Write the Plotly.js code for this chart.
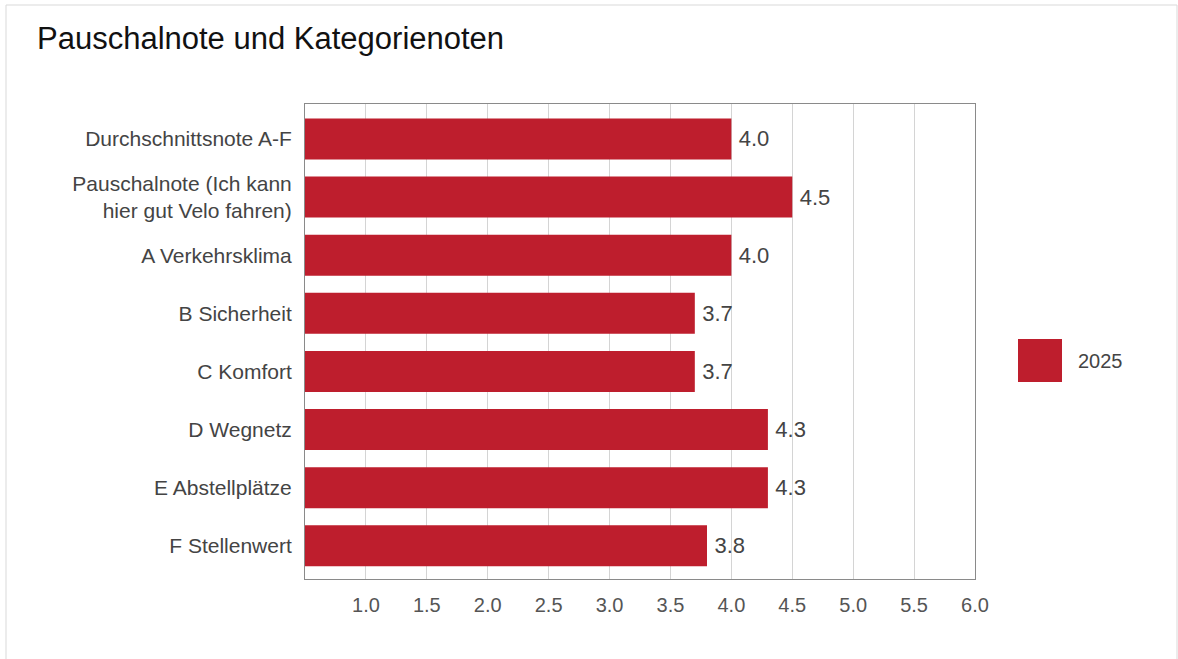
<!DOCTYPE html>
<html>
<head>
<meta charset="utf-8">
<script src="https://cdn.plot.ly/plotly-3.0.1.min.js"></script>
<style>
  html, body { margin: 0; padding: 0; background: #fff; }
  #chart { width: 1178px; height: 659px; }
</style>
</head>
<body>
<div id="chart"></div>
<script>
const chartTitle = "Pauschalnote und Kategorienoten";
const categories = [
  "Durchschnittsnote A-F",
  "Pauschalnote (Ich kann<br>hier gut Velo fahren)",
  "A Verkehrsklima",
  "B Sicherheit",
  "C Komfort",
  "D Wegnetz",
  "E Abstellplätze",
  "F Stellenwert"
];
const seriesName = "2025";
const values2025 = [4.0, 4.5, 4.0, 3.7, 3.7, 4.3, 4.3, 3.8];
const xTickValues = [1.0, 1.5, 2.0, 2.5, 3.0, 3.5, 4.0, 4.5, 5.0, 5.5, 6.0];
const xTickLabels = ["1.0", "1.5", "2.0", "2.5", "3.0", "3.5", "4.0", "4.5", "5.0", "5.5", "6.0"];

const barColor = "#be1e2d";
const fontFamily = "'Liberation Sans', Arial, sans-serif";

const trace = {
  type: "bar",
  orientation: "h",
  name: seriesName,
  y: categories,
  x: values2025,
  width: 0.705,
  marker: { color: barColor, line: { width: 0 } },
  text: values2025.map(v => "\u2009" + v.toFixed(1)),
  textposition: "outside",
  textfont: { family: fontFamily, size: 22, color: "#444" },
  cliponaxis: false,
  showlegend: false,
  hoverinfo: "x+y"
};

const layout = {
  width: 1178,
  height: 659,
  margin: { l: 305, r: 203, t: 104, b: 80 },
  paper_bgcolor: "#fff",
  plot_bgcolor: "#fff",
  font: { family: fontFamily, color: "#444" },
  title: {
    text: chartTitle,
    x: 37 / 1178,
    xanchor: "left",
    xref: "container",
    y: 1 - 38 / 659,
    yref: "container",
    yanchor: "middle",
    font: { family: fontFamily, size: 31, color: "#111" }
  },
  xaxis: {
    range: [0.5, 6.0],
    tickvals: xTickValues,
    ticktext: xTickLabels,
    showgrid: true,
    gridcolor: "#d4d4d4",
    gridwidth: 1,
    zeroline: false,
    showline: true,
    mirror: true,
    linecolor: "#8a8a8a",
    linewidth: 1,
    ticks: "",
    ticklabelstandoff: 8,
    tickfont: { family: fontFamily, size: 20, color: "#555" },
    fixedrange: true
  },
  yaxis: {
    type: "category",
    range: [7.57, -0.6],
    showgrid: false,
    zeroline: false,
    showline: true,
    mirror: true,
    linecolor: "#8a8a8a",
    linewidth: 1,
    ticks: "",
    ticklabelstandoff: 8,
    tickfont: { family: fontFamily, size: 21, color: "#444" },
    fixedrange: true
  },
  shapes: [
    {
      type: "rect", xref: "paper", yref: "paper",
      x0: (6 - 305) / 670, x1: (1177 - 305) / 670,
      y0: (579 - 665) / 475, y1: (579 - 5) / 475,
      line: { color: "#d9d9d9", width: 1 },
      fillcolor: "rgba(0,0,0,0)",
      layer: "below"
    },
    {
      type: "rect", xref: "paper", yref: "paper",
      x0: (1018 - 305) / 670, x1: (1062 - 305) / 670,
      y0: (579 - 382) / 475, y1: (579 - 339) / 475,
      line: { width: 0 },
      fillcolor: barColor
    }
  ],
  annotations: [
    {
      xref: "paper", yref: "paper",
      x: (1076 - 305) / 670, y: (579 - 361) / 475,
      xanchor: "left", yanchor: "middle",
      text: seriesName,
      showarrow: false,
      font: { family: fontFamily, size: 20, color: "#444" }
    }
  ]
};

Plotly.newPlot("chart", [trace], layout, { displayModeBar: false, staticPlot: true });
</script>
</body>
</html>
